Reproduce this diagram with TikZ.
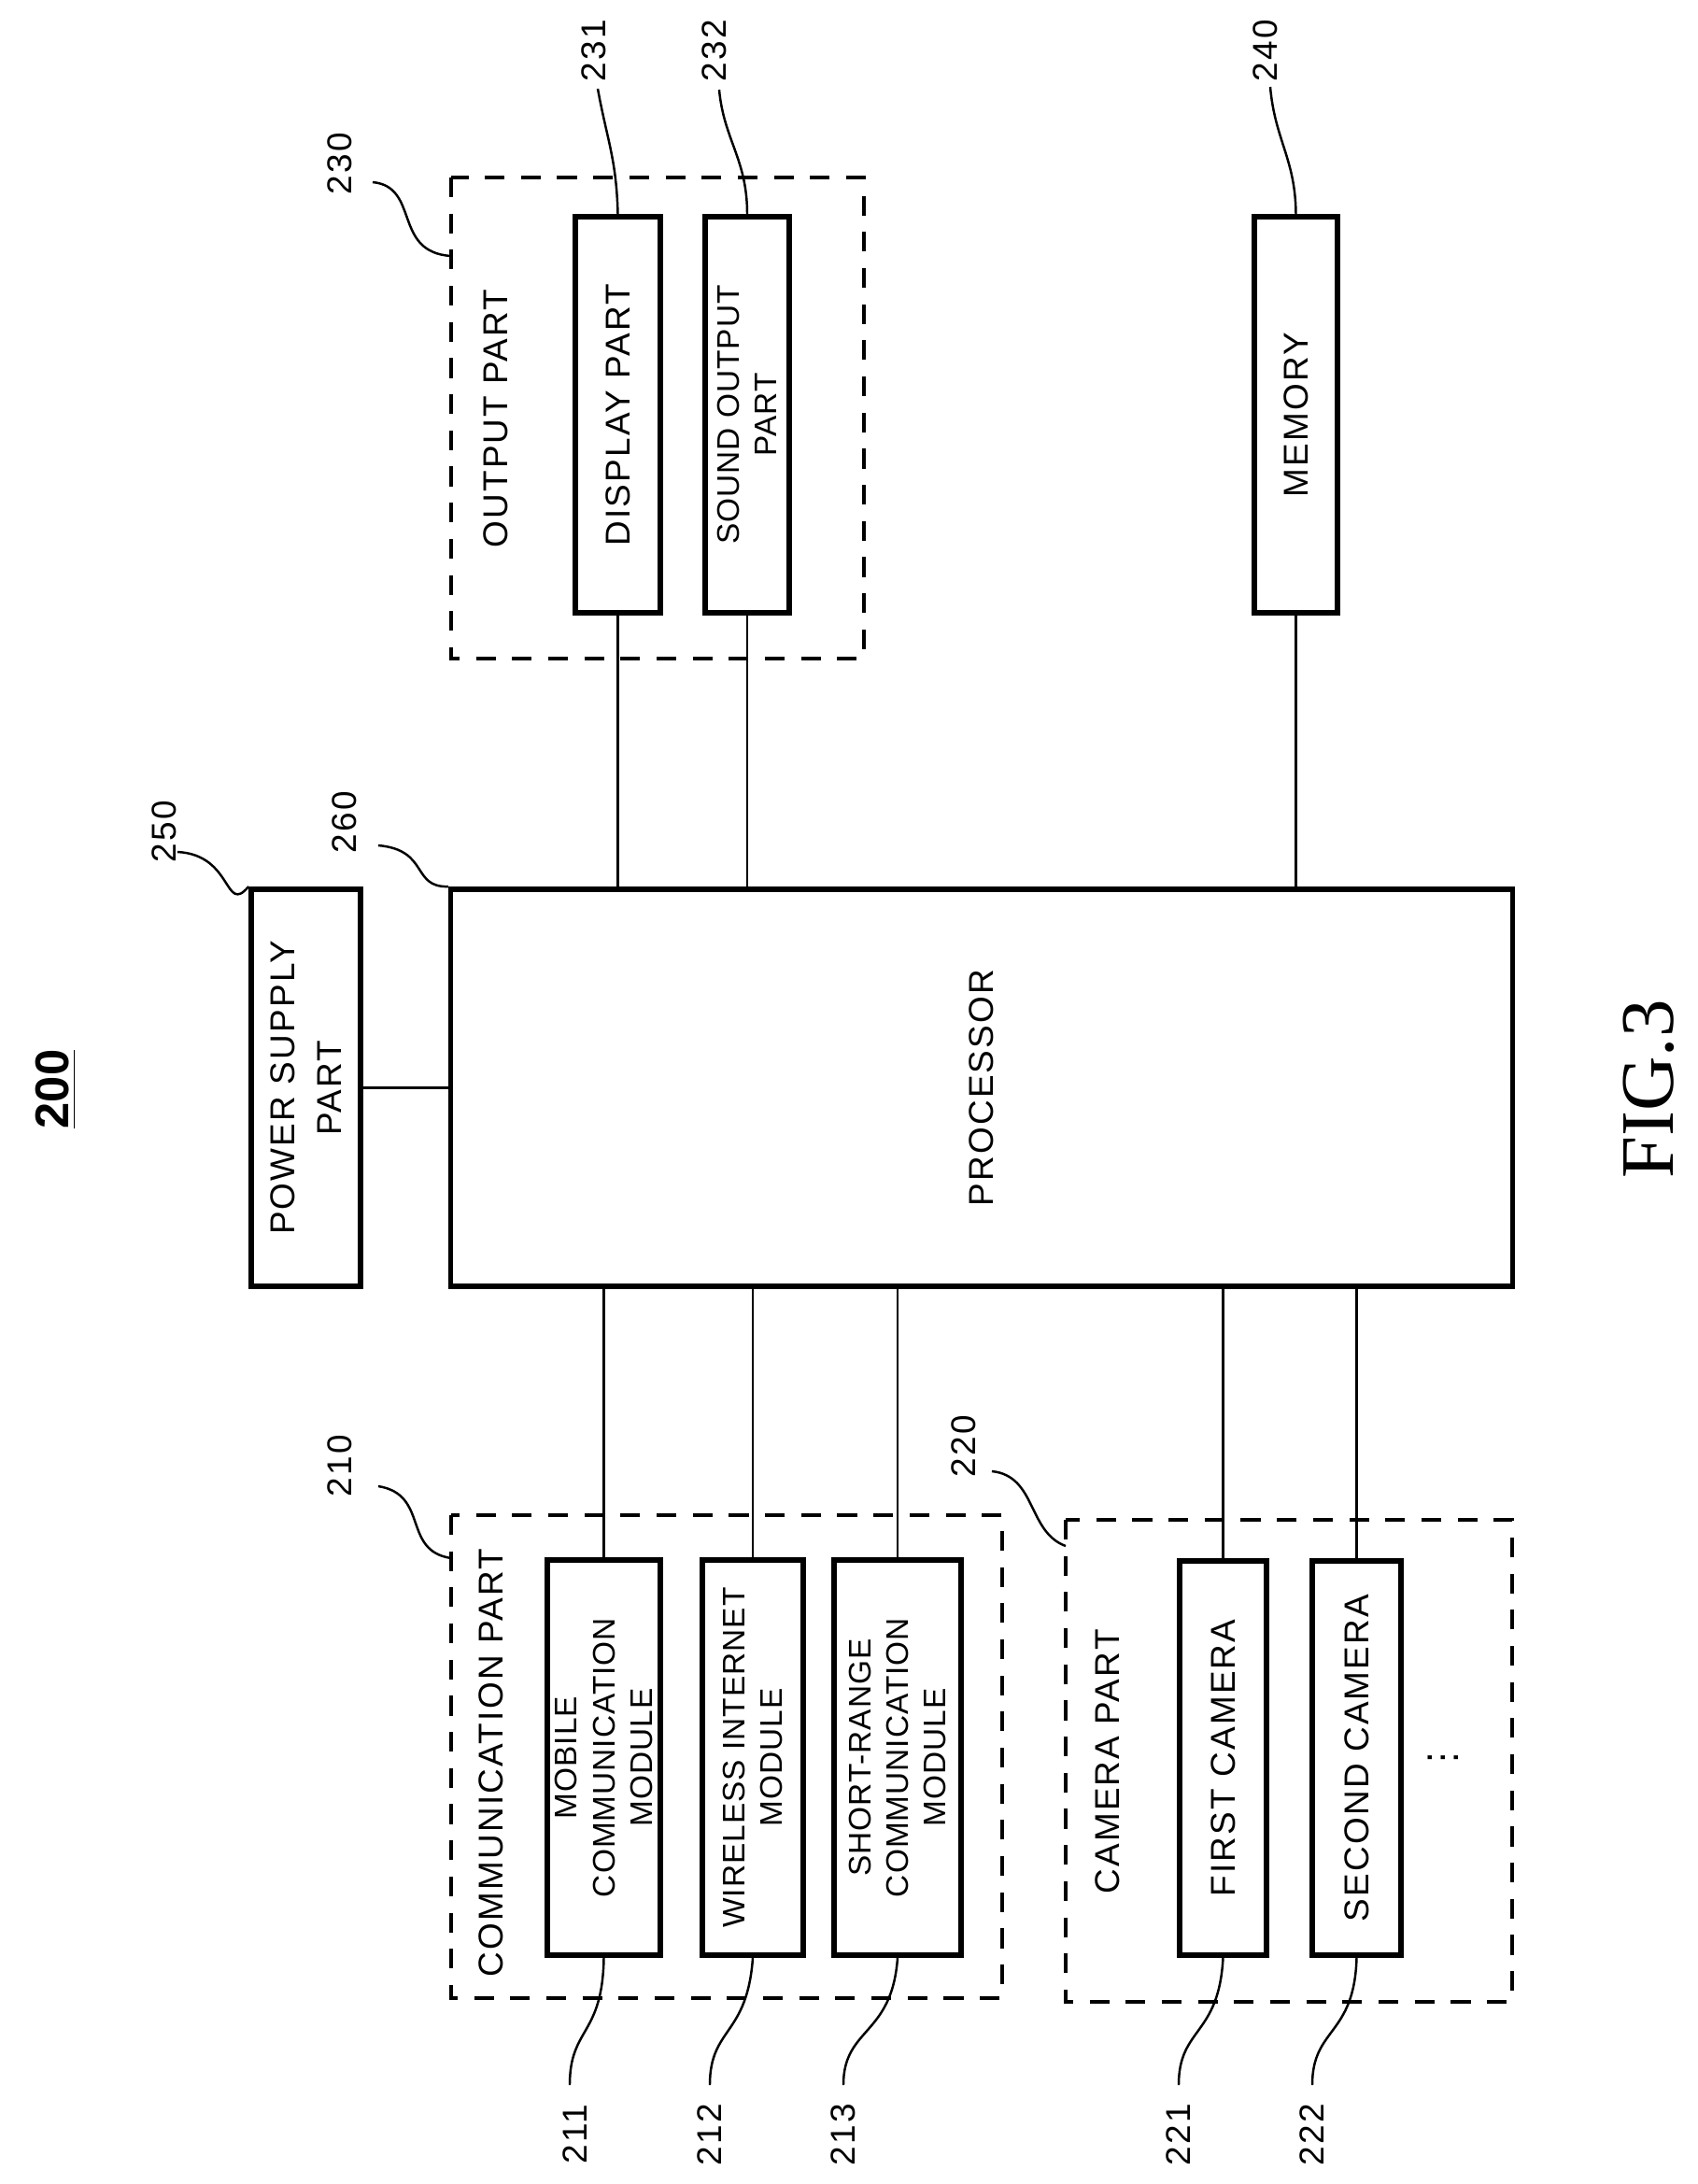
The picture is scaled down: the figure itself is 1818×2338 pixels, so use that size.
\documentclass[tikz,border=0pt]{standalone}
\usepackage{fontspec}
\setmainfont{Liberation Sans}
\newfontfamily\figfont{Liberation Serif}
\newfontfamily\spfont[LetterSpace=6]{Liberation Sans}
\newfontfamily\bxfont[LetterSpace=3]{Liberation Sans}
\begin{document}
\begin{tikzpicture}[x=0.01cm,y=-0.01cm,
  box/.style={draw,line width=1.6pt,inner sep=0pt},
  grp/.style={draw,line width=1pt,dash pattern=on 6pt off 5pt},
  txt/.style={rotate=90,font=\spfont\fontsize{10.5}{14}\selectfont,align=center,inner sep=0pt},
  btx/.style={rotate=90,font=\bxfont\fontsize{9.5}{11.5}\selectfont,align=center,inner sep=0pt},
  num/.style={rotate=90,font=\spfont\fontsize{10.5}{13}\selectfont,inner sep=0pt},
  lead/.style={line width=0.7pt},
  wire/.style={line width=0.8pt}]
\useasboundingbox (0,0) rectangle (1818,2338);
% boxes
\node[box,minimum width=11.36cm,minimum height=4.25cm] (proc) at (1051,1164.5) {};
\node[txt] (proct) at (proc.center) {PROCESSOR};
\node[box,minimum width=1.17cm,minimum height=4.25cm] (pow) at (327.5,1164.5) {};
\node[txt] (powt) at (pow.center) {POWER SUPPLY\\PART};
% output group
\draw[grp] (483,190) rectangle (925,705);
\node[txt] (outt) at (531,448) {OUTPUT PART};
\node[box,minimum width=0.91cm,minimum height=4.24cm] (disp) at (661.5,444) {};
\node[txt] (dispt) at (disp.center) {DISPLAY PART};
\node[box,minimum width=0.9cm,minimum height=4.24cm] (snd) at (800,444) {};
\node[btx] (sndt) at (snd.center) {SOUND OUTPUT\\PART};
\node[box,minimum width=0.89cm,minimum height=4.24cm] (mem) at (1387.5,444) {};
\node[txt] (memt) at (mem.center) {MEMORY};
% comm group
\draw[grp] (483,1622) rectangle (1073,2139);
\node[txt] (commt) at (526,1887) {COMMUNICATION PART};
\node[box,minimum width=1.21cm,minimum height=4.23cm] (mob) at (646.5,1881.5) {};
\node[btx] (mobt) at (mob.center) {MOBILE\\COMMUNICATION\\MODULE};
\node[box,minimum width=1.08cm,minimum height=4.23cm] (wir) at (806,1881.5) {};
\node[btx] (wirt) at (wir.center) {WIRELESS INTERNET\\MODULE};
\node[box,minimum width=1.36cm,minimum height=4.23cm] (sho) at (961,1881.5) {};
\node[btx] (shot) at (sho.center) {SHORT-RANGE\\COMMUNICATION\\MODULE};
% camera group
\draw[grp] (1141,1627) rectangle (1619,2143);
\node[txt] (camt) at (1186,1886) {CAMERA PART};
\node[box,minimum width=0.93cm,minimum height=4.22cm] (c1) at (1309.5,1882) {};
\node[txt] (c1t) at (c1.center) {FIRST CAMERA};
\node[box,minimum width=0.95cm,minimum height=4.22cm] (c2) at (1452.5,1882) {};
\node[txt] (c2t) at (c2.center) {SECOND CAMERA};
\node[rotate=90,inner sep=0pt,font=\large] (dots) at (1535,1882) {$\vdots$};
% wires
\draw[wire] (pow.east) -- (proc.west |- pow.east);
\foreach \n in {disp,snd,mem}{\draw[wire] (\n.south) -- (proc.north -| \n.south);}
\foreach \n in {mob,wir,sho,c1,c2}{\draw[wire] (\n.north) -- (proc.south -| \n.north);}
% numbers and leaders
\node[rotate=90,inner sep=0pt,font=\bfseries\Large] (n200) at (60,1166) {\underline{200}};
\node[rotate=90,inner sep=0pt,font=\figfont\fontsize{23}{23}\selectfont] (fig) at (1765,1166) {FIG.3};
\node[num] (n230) at (364,175) {230};
\coordinate (e230) at (483,274);
\draw[lead] (399,195) .. controls (450,200) and (420,270) .. (e230);
\node[num] (n231) at (636,54) {231};
\draw[lead] (640,95) .. controls (650,150) and (660,170) .. (disp.north);
\node[num] (n232) at (765,54) {232};
\draw[lead] (770,96) .. controls (775,150) and (800,170) .. (snd.north);
\node[num] (n240) at (1355,54) {240};
\draw[lead] (1360,93) .. controls (1365,150) and (1387,170) .. (mem.north);
\node[num] (n250) at (176,890) {250};
\draw[lead] (190,912) .. controls (250,915) and (240,980) .. (pow.north west);
\node[num] (n260) at (369,880) {260};
\draw[lead] (405,905) .. controls (460,910) and (440,950) .. (proc.north west);
\node[num] (n210) at (364,1569) {210};
\coordinate (e210) at (483,1668);
\draw[lead] (405,1591) .. controls (460,1600) and (430,1660) .. (e210);
\node[num] (n220) at (1032,1548) {220};
\coordinate (e220) at (1141,1655);
\draw[lead] (1062,1575) .. controls (1110,1580) and (1100,1640) .. (e220);
\node[num] (n211) at (616,2285) {211};
\draw[lead] (mob.south) .. controls (645,2180) and (610,2170) .. (610,2232);
\node[num] (n212) at (760,2285) {212};
\draw[lead] (wir.south) .. controls (800,2180) and (760,2170) .. (760,2232);
\node[num] (n213) at (903,2285) {213};
\draw[lead] (sho.south) .. controls (955,2180) and (903,2170) .. (903,2232);
\node[num] (n221) at (1262,2285) {221};
\draw[lead] (c1.south) .. controls (1305,2180) and (1262,2170) .. (1262,2232);
\node[num] (n222) at (1405,2285) {222};
\draw[lead] (c2.south) .. controls (1450,2180) and (1405,2170) .. (1405,2232);
\end{tikzpicture}
\end{document}
